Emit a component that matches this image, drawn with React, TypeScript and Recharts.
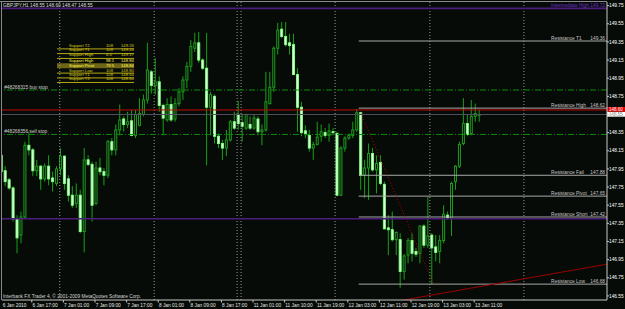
import React from 'react';
import { ComposedChart, Bar, XAxis, YAxis, ReferenceLine, ReferenceArea } from 'recharts';

// ---------- DATA ----------
const opens = [148.10,147.93,147.83,147.74,147.40,147.22,147.42,148.21,148.16,147.93,147.98,147.84,147.98,147.85,147.79,147.95,148.09,147.84,147.66,147.57,147.66,147.26,148.05,148.00,147.57,147.96,147.92,147.88,148.25,148.16,148.38,148.50,148.44,148.48,148.32,148.43,148.55,148.71,149.02,148.87,148.91,148.65,148.49,148.66,148.50,148.67,148.80,148.93,149.08,149.28,149.34,149.15,149.06,148.63,148.75,148.31,148.23,148.18,148.27,148.47,148.55,148.46,148.40,148.44,148.40,148.50,148.36,148.38,148.67,148.85,149.28,149.49,149.41,149.34,149.32,148.99,148.63,148.37,148.32,148.18,148.22,148.31,148.35,148.32,148.36,148.34,147.66,148.18,148.29,148.32,148.38,148.57,147.88,147.96,148.12,147.94,148.02,147.78,147.30,147.28,147.17,147.17,146.82,147.00,147.16,147.04,147.02,147.32,147.11,147.22,147.09,147.04,147.16,147.44,147.41,147.81,147.98,148.23,148.45,148.34,148.53,148.55];
const highs = [148.14,147.98,147.85,147.76,147.44,147.48,148.25,148.36,148.18,148.05,147.99,148.01,148.10,147.92,147.98,148.18,148.10,147.88,147.76,147.79,147.72,148.18,148.10,148.03,148.03,148.07,147.96,148.27,148.29,148.44,148.66,148.53,148.58,148.60,148.60,148.73,148.77,149.34,149.04,149.17,148.97,148.67,148.73,148.75,148.73,148.84,148.97,149.13,149.37,149.45,149.46,149.17,149.45,148.80,148.77,148.34,148.27,148.38,148.49,148.58,148.70,148.56,148.56,148.53,148.55,148.53,148.44,149.02,149.02,149.30,149.56,149.57,149.57,149.44,149.44,149.06,148.69,148.43,148.38,148.25,148.47,148.44,148.40,148.45,148.40,148.36,148.20,148.31,148.34,148.47,148.61,148.58,148.05,148.23,148.18,148.10,148.10,147.81,147.44,147.48,147.26,147.24,147.01,147.19,147.24,147.08,147.33,147.34,147.64,147.24,147.22,147.22,147.55,147.48,147.81,147.99,148.25,148.73,148.55,148.71,148.67,148.60];
const lows = [147.66,147.76,147.72,147.37,147.02,147.13,147.41,148.10,147.87,147.87,147.72,147.81,147.77,147.70,147.76,147.88,147.72,147.59,147.52,147.52,147.24,147.03,147.98,147.37,147.55,147.88,147.77,147.85,148.10,148.10,148.32,148.36,148.40,148.31,148.29,148.42,148.53,148.67,148.78,148.77,148.58,148.32,148.47,148.47,148.47,148.64,148.71,148.84,149.02,149.24,149.12,149.04,147.99,148.32,148.23,148.18,148.05,148.09,148.25,148.38,148.38,148.25,148.38,148.38,148.38,148.32,148.21,148.36,148.66,148.80,149.21,149.39,149.30,149.21,148.99,148.36,148.31,148.29,148.14,148.05,148.21,148.25,148.29,148.25,148.32,147.65,147.65,148.14,148.27,148.29,148.36,147.72,147.63,147.61,147.92,147.68,147.77,147.28,147.00,147.15,147.00,146.64,146.73,146.91,146.93,146.98,146.91,147.08,147.08,146.68,146.93,146.91,147.13,147.39,147.21,147.72,147.96,148.21,148.31,148.32,148.47,148.47];
const closes = [147.92,147.81,147.74,147.40,147.19,147.42,148.21,148.16,147.93,147.98,147.84,147.98,147.84,147.81,147.95,148.09,147.79,147.66,147.55,147.66,147.26,148.05,148.00,147.55,147.96,147.92,147.88,148.25,148.16,148.38,148.49,148.44,148.47,148.32,148.55,148.56,148.71,149.04,148.87,148.91,148.65,148.51,148.66,148.49,148.67,148.80,148.93,149.08,149.30,149.34,149.15,149.06,148.63,148.77,148.31,148.23,148.18,148.27,148.47,148.40,148.45,148.42,148.55,148.40,148.51,148.36,148.38,148.69,148.85,149.28,149.48,149.41,149.32,149.31,148.99,148.63,148.35,148.34,148.18,148.22,148.30,148.36,148.32,148.37,148.35,147.66,148.18,148.29,148.32,148.38,148.57,147.88,147.96,148.12,147.94,148.01,147.79,147.29,147.28,147.17,147.25,146.82,146.99,147.16,147.02,147.01,147.32,147.11,147.21,147.08,147.03,147.16,147.45,147.41,147.79,147.98,148.22,148.45,148.33,148.53,148.56,148.55];

const timeTickIndex = [0, 8, 16, 24, 32, 40, 48, 56, 64, 72, 80, 88, 96, 104, 112, 120];
const timeTickLabels = ['6 Jan 2010', '6 Jan 17:00', '7 Jan 01:00', '7 Jan 09:00', '7 Jan 17:00', '8 Jan 01:00', '8 Jan 09:00', '8 Jan 17:00', '11 Jan 01:00', '11 Jan 10:00', '11 Jan 19:00', '12 Jan 03:00', '12 Jan 11:00', '12 Jan 19:00', '13 Jan 03:00', '13 Jan 11:00'];
const priceTicks = [149.75, 149.55, 149.35, 149.15, 148.95, 148.75, 148.55, 148.35, 148.15, 147.95, 147.75, 147.55, 147.35, 147.15, 146.95, 146.75, 146.55];
const daySeparators = [14.7, 38.6, 59.6, 60.6, 84.4, 108.4, 132.2];

const resistanceNames = ['Resistance T1', 'Resistance High', 'Resistance Fail', 'Resistance Pivot', 'Resistance Short', 'Resistance Low'];
const resistanceLevels = [149.36, 148.62, 147.88, 147.65, 147.42, 146.68];
const resistanceStart = 90.4;

const purpleLevels = [149.72, 147.40];
const purpleNames = ['Intermediate High', ''];

const orderLevels = [148.82, 148.33];
const orderNames = ['#48268315 buy stop', '#48268356 sell stop'];

const askPrice = 148.60;
const bidPrice = 148.55;

const trendDownX = [91, 109.2];
const trendDownY = [148.56, 146.69];
const trendUpX = [101.8, 153.24];
const trendUpY = [146.505, 146.90];

const supportLineLevels = [149.273, 149.221, 149.168, 149.006, 148.953, 148.903];
const supportBand = [149.061, 149.116];
const supportRange = [14, 33.5];
const supportNames = ['Support T2', 'Support T1', 'Support High', 'Support High', 'Support Pivot', 'Support Low', 'Support T1', 'Support T3'];
const supportPcts = ['108', '108', '6.0', '98.1', '79.5', '108', '108', '108'];
const supportValues = ['149.26', '149.24', '149.17', '148.84', '148.84', '148.80', '148.64', '148.60'];

const titleText = 'GBPJPY,H1  148.55 148.60 148.47 148.55';
const copyrightText = 'Interbank FX Trader 4, \u00a9 2001-2009 MetaQuotes Software Corp.';

const candles = opens.map((o, i) => ({ i, o, h: highs[i], l: lows[i], c: closes[i] }));

// ---------- STYLE ----------
const FONT = "'Liberation Sans', Arial, sans-serif";
const FS = 4.8;
const BG = '#070b07';
const WICK = '#17a017';
const BULL_FILL = '#061006';
const BULL_STROKE = '#1f9a1f';
const BEAR_FILL = '#f0fff0';
const BEAR_STROKE = '#7dff7d';

const Candle = (props: any) => {
  const { x, y, width, height, payload } = props;
  if (!payload || x == null || y == null) return null;
  const { o, h, l, c } = payload;
  const cx = x + width / 2;
  const span = h - l;
  const py = (p: number) => (span > 0 ? y + ((h - p) / span) * height : y);
  const top = py(Math.max(o, c));
  const bot = py(Math.min(o, c));
  const bull = c >= o;
  return (
    <g>
      <line x1={cx} x2={cx} y1={y} y2={y + height} stroke={WICK} strokeWidth={1} />
      <rect
        x={cx - 1}
        y={top}
        width={2}
        height={Math.max(bot - top, 0.8)}
        fill={bull ? BULL_FILL : BEAR_FILL}
        stroke={bull ? BULL_STROKE : BEAR_STROKE}
        strokeWidth={1}
      />
    </g>
  );
};

const TimeTick = (props: any) => {
  const { x, y, payload } = props;
  const k = timeTickIndex.indexOf(payload.value);
  const label = k >= 0 ? timeTickLabels[k] : '';
  return (
    <g>
      {k > 0 && <line x1={x - 1.5} x2={x - 1.5} y1={y} y2={y + 2.5} stroke="#c8c8c8" strokeWidth={1} />}
      <text x={k > 0 ? x - 0.8 : x + 1} y={y + 7.3} fontSize={FS} fill="#e6e6e6" fontFamily={FONT}>
        {label}
      </text>
    </g>
  );
};

const levelLabel = (name: string, value: string, color: string) => (props: any) => {
  const vb = props.viewBox || {};
  const right = (vb.x || 0) + (vb.width || 0);
  const y = vb.y || 0;
  return (
    <g>
      {name && (
        <text x={right - 56} y={y - 1.2} fontSize={FS} fill={color} fontFamily={FONT}>
          {name}
        </text>
      )}
      <text x={right - 2} y={y - 1.2} fontSize={FS} fill={color} fontFamily={FONT} textAnchor="end">
        {value}
      </text>
    </g>
  );
};

const orderLabel = (name: string) => (props: any) => {
  const vb = props.viewBox || {};
  return (
    <text x={(vb.x || 0) + 2.2} y={(vb.y || 0) - 1.3} fontSize={FS} fill="#d0d0d0" fontFamily={FONT}>
      {name}
    </text>
  );
};

const priceBox = (value: string, fill: string, textColor: string, up: number, down: number) => (props: any) => {
  const vb = props.viewBox || {};
  const right = (vb.x || 0) + (vb.width || 0);
  const y = vb.y || 0;
  const mid = y + (down - up) / 2;
  return (
    <g>
      <rect x={right} y={y - up} width={18} height={up + down} fill={fill} />
      <text x={right + 2} y={mid + 1.6} fontSize={4.5} fill={textColor} fontFamily={FONT}>
        {value}
      </text>
    </g>
  );
};

export default function App() {
  return (
    <div style={{ position: 'fixed', left: 0, top: 0, width: 625, height: 309, background: BG, overflow: 'hidden' }}>
      <ComposedChart width={625} height={309} data={candles} margin={{ top: 2, right: 0, bottom: 0, left: 2 }}>
        <XAxis
          dataKey="i"
          type="number"
          domain={[0.076, 153.24]}
          allowDataOverflow
          ticks={timeTickIndex}
          interval={0}
          height={9}
          tickSize={0}
          tickMargin={0}
          tickLine={false}
          axisLine={{ stroke: '#c8c8c8' }}
          tick={<TimeTick />}
        />
        <YAxis
          orientation="right"
          type="number"
          domain={[146.505, 149.79]}
          allowDataOverflow
          ticks={priceTicks}
          interval={0}
          width={18}
          tickSize={2}
          tickMargin={0}
          axisLine={{ stroke: '#c8c8c8' }}
          tickLine={{ stroke: '#c8c8c8' }}
          tick={{ fill: '#ffffff', fontSize: FS, fontFamily: FONT }}
          tickFormatter={(v: number) => v.toFixed(2)}
        />

        {daySeparators.map((d, k) => (
          <ReferenceLine key={'sep' + k} x={d} stroke="#9a9a9a" strokeDasharray="1 2" strokeWidth={1} />
        ))}

        {orderLevels.map((p, k) => (
          <ReferenceLine key={'ord' + k} y={p} stroke="#0c8c0c" strokeDasharray="6 2 1 2" strokeWidth={1} label={orderLabel(orderNames[k])} />
        ))}

        {purpleLevels.map((p, k) => (
          <ReferenceLine
            key={'pur' + k}
            y={p}
            stroke="#4c1d7c"
            strokeWidth={1.6}
            label={purpleNames[k] ? levelLabel(purpleNames[k], p.toFixed(2), '#6b33c8') : undefined}
          />
        ))}

        <ReferenceLine y={askPrice} stroke="#c00a0a" strokeWidth={1} label={priceBox(askPrice.toFixed(2), '#e00000', '#ffffff', 3, 1.8)} />
        <ReferenceLine y={bidPrice} stroke="#4e4e5c" strokeWidth={1.2} label={priceBox(bidPrice.toFixed(2), '#ffffff', '#000000', 2.6, 2.2)} />

        {resistanceLevels.map((p, k) => (
          <ReferenceLine
            key={'res' + k}
            segment={[{ x: resistanceStart, y: p }, { x: 153.24, y: p }]}
            stroke="#a8a8a8"
            strokeWidth={1}
            ifOverflow="visible"
            label={levelLabel(resistanceNames[k], p.toFixed(2), '#c4c4c4')}
          />
        ))}

        <ReferenceArea
          x1={supportRange[0]}
          x2={supportRange[1]}
          y1={supportBand[0]}
          y2={supportBand[1]}
          fill="#6d6618"
          fillOpacity={1}
          stroke="none"
          ifOverflow="visible"
        />
        {supportLineLevels.map((p, k) => (
          <ReferenceLine
            key={'sup' + k}
            segment={[{ x: supportRange[0], y: p }, { x: supportRange[1], y: p }]}
            stroke="#b8a814"
            strokeWidth={1}
            ifOverflow="visible"
          />
        ))}

        <ReferenceLine
          segment={[{ x: trendDownX[0], y: trendDownY[0] }, { x: trendDownX[1], y: trendDownY[1] }]}
          stroke="#b00000"
          strokeDasharray="1 2"
          strokeWidth={1}
          ifOverflow="visible"
        />
        <ReferenceLine
          segment={[{ x: trendUpX[0], y: trendUpY[0] }, { x: trendUpX[1], y: trendUpY[1] }]}
          stroke="#9a0000"
          strokeWidth={1}
          ifOverflow="hidden"
        />

        <Bar dataKey={(d: any) => [d.l, d.h]} shape={Candle} barSize={3} isAnimationActive={false} />
      </ComposedChart>

      <svg width={625} height={309} style={{ position: 'absolute', left: 0, top: 0, pointerEvents: 'none' }}>
        <line x1={0} x2={607} y1={1.5} y2={1.5} stroke="#8a8a8a" strokeWidth={1} />
        <line x1={1.5} x2={1.5} y1={1.5} y2={300} stroke="#8a8a8a" strokeWidth={1} />
        <text x={3} y={6.9} fontSize={FS} fill="#dcdcdc" fontFamily={FONT}>{titleText}</text>
        <text x={3} y={298} fontSize={FS} fill="#d6d6d6" fontFamily={FONT}>{copyrightText}</text>
        {supportNames.map((n, k) => {
          const rowY = [46.6, 51.0, 56.2, 61.6, 66.6, 71.6, 75.9, 80.2][k];
          const bright = k === 3 || k === 4;
          const col = bright ? '#fff64a' : '#d8c81a';
          return (
            <g key={'st' + k}>
              <text x={69} y={rowY} fontSize={4.2} fill={col} fontFamily={FONT}>{n}</text>
              <text x={106} y={rowY} fontSize={4.2} fill={col} fontFamily={FONT}>{supportPcts[k]}</text>
              <text x={121} y={rowY} fontSize={4.2} fill={col} fontFamily={FONT}>{supportValues[k]}</text>
            </g>
          );
        })}
      </svg>
    </div>
  );
}
